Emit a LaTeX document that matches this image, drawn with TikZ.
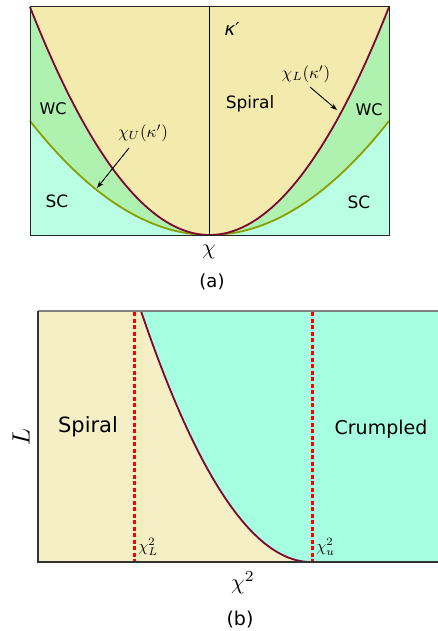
\documentclass[tikz,border=0pt]{standalone}
\usepackage{fontspec}
\setsansfont{DejaVu Sans}
\usetikzlibrary{arrows.meta}
\definecolor{ya}{HTML}{F3EAAD}
\definecolor{ga}{HTML}{AFF2B0}
\definecolor{ca}{HTML}{BAFFE4}
\definecolor{yb}{HTML}{F5EFC5}
\definecolor{cb}{HTML}{A5FFE0}
\definecolor{maroon}{HTML}{7E0631}
\definecolor{olive}{HTML}{8A9F00}
\tikzset{
  lbl/.style={inner sep=0pt,font=\sffamily\fontsize{#1}{#1}\selectfont},
  mlbl/.style={inner sep=0pt,font=\fontsize{10}{10}\selectfont,scale=#1/10},
  boundary/.style={line width=1.8pt,maroon},
  ptr/.style={-{Stealth[length=7pt,width=5pt]},line width=0.9pt,black},
  crit/.style={red,line width=2.3pt,dash pattern=on 4.3pt off 2.2pt}
}
\begin{document}
\begin{tikzpicture}[x=1pt,y=-1pt]
\useasboundingbox (0,0) rectangle (438,631);
% ---------- panel (a) ----------
\fill[ca] (30,7) rectangle (389,235);
\fill[ga] (30,7) -- plot[domain=30:389,samples=120] (\x,{235-114*((\x-209.5)/179.5)^2}) -- (389,7) -- cycle;
\fill[ya] plot[domain=30:389,samples=120] (\x,{235-228*((\x-209.5)/179.5)^2}) -- cycle;
\draw[olive,line width=1.8pt] plot[domain=30:389,samples=120] (\x,{235-114*((\x-209.5)/179.5)^2});
\draw[boundary] plot[domain=30:389,samples=120] (\x,{235-228*((\x-209.5)/179.5)^2});
\draw[black,line width=0.9pt] (209.5,7) -- (209.5,235);
\draw[black!85,line width=1pt] (30,7) rectangle (389,235);
\node[lbl=18] (kap) at (232,29) {\itshape κ′};
\node[mlbl=17] (chiL) at (306,74) {$\chi_L(\kappa')$};
\node[lbl=17] (spa) at (250,104) {Spiral};
\node[lbl=16] (wcr) at (369,110) {WC};
\node[lbl=16] (wcl) at (53,109) {WC};
\node[mlbl=17] (chiU) at (143,133) {$\chi_U(\kappa')$};
\node[lbl=17] (scl) at (57,201) {SC};
\node[lbl=17] (scr) at (359,202) {SC};
\node[mlbl=22] (chia) at (209,252) {$\chi$};
\node[lbl=18] (capa) at (212,282) {(a)};
\coordinate (tipL) at (337,110);
\coordinate (tipU) at (97,188);
\draw[ptr] (310,87) -- (tipL);
\draw[ptr] (129,148) -- (tipU);
% ---------- panel (b) ----------
\fill[yb] (38,311) rectangle (438,562);
\fill[cb] plot[domain=141:311,samples=120] (\x,{562-251*((311-\x)/170)^2}) -- (438,562) -- (438,311) -- cycle;
\draw[yellow!60!orange,opacity=0.15,line width=0.8pt] (141,311) -- (141,562);
\draw[boundary] plot[domain=141:311,samples=120] (\x,{562-251*((311-\x)/170)^2});
\draw[crit] (134.5,312) -- (134.5,562);
\draw[crit] (312.5,312) -- (312.5,562);
\draw[gray,line width=1.2pt] (38,311) -- (438,311);
\draw[black!80,line width=1.2pt] (38,311) -- (38,562) -- (438,562);
\node[mlbl=25,rotate=90] (Lb) at (21,437) {$L$};
\node[lbl=21] (spb) at (88,427) {Spiral};
\node[lbl=19] (crb) at (381,429) {Crumpled};
\node[mlbl=16,anchor=west] (xL) at (138,547) {$\chi^2_L$};
\node[mlbl=16,anchor=west] (xu) at (316,547) {$\chi^2_u$};
\node[mlbl=22] (chib) at (243,583) {$\chi^2$};
\node[lbl=19] (capb) at (240,620) {(b)};
\end{tikzpicture}
\end{document}
